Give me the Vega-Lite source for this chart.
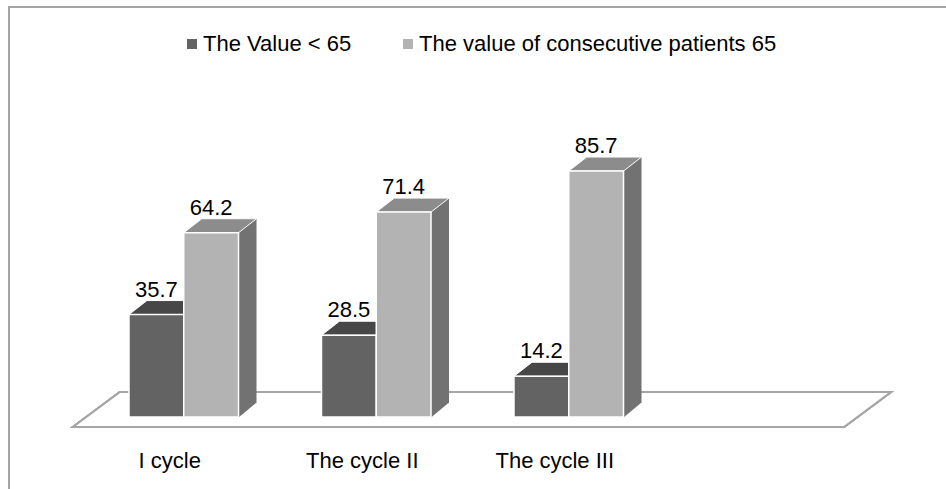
{
  "$schema": "https://vega.github.io/schema/vega-lite/v6.json",
  "width": 946,
  "height": 500,
  "autosize": {"type": "none"},
  "padding": {"left": 9, "top": 7, "right": 0, "bottom": 0},
  "background": "white",
  "config": {
    "view": {"stroke": "#a3a3a3", "strokeWidth": 2},
    "font": "Liberation Sans"
  },
  "data": {
    "values": [
      {"cycle": "I cycle", "series": "The Value < 65", "value": 35.7},
      {"cycle": "I cycle", "series": "The value of consecutive patients 65", "value": 64.2},
      {"cycle": "The cycle II", "series": "The Value < 65", "value": 28.5},
      {"cycle": "The cycle II", "series": "The value of consecutive patients 65", "value": 71.4},
      {"cycle": "The cycle III", "series": "The Value < 65", "value": 14.2},
      {"cycle": "The cycle III", "series": "The value of consecutive patients 65", "value": 85.7}
    ]
  },
  "encoding": {
    "x": {
      "field": "cycle",
      "type": "nominal",
      "title": null,
      "scale": {"range": [78.5, 656], "paddingInner": 0.431, "paddingOuter": 0.2155},
      "axis": {
        "orient": "bottom",
        "offset": -40,
        "domain": false,
        "ticks": false,
        "tickSize": 0,
        "labelPadding": 0,
        "labelBaseline": "alphabetic",
        "labelOffset": -14,
        "labelFontSize": 22,
        "labelColor": "#000000",
        "labelFont": "Liberation Sans",
        "labelAngle": 0,
        "grid": false
      }
    },
    "y": {
      "field": "value",
      "type": "quantitative",
      "title": null,
      "scale": {"domain": [0, 100], "range": [410, 123], "nice": false, "zero": true},
      "axis": null
    }
  },
  "layer": [
    {
      "mark": {
        "type": "point",
        "shape": "M-1,0.0428L0.8851,0.0428L1,-0.0428L-0.8851,-0.0428Z",
        "size": 669124,
        "filled": true,
        "fill": "#ffffff",
        "stroke": "#a6a6a6",
        "strokeWidth": 2,
        "opacity": 1,
        "xOffset": 105.7,
        "yOffset": -7.5
      },
      "encoding": {
        "x": {"datum": "The cycle II", "type": "nominal"},
        "y": {"datum": 0, "type": "quantitative"}
      }
    },
    {
      "transform": [{"filter": "datum.series == 'The Value < 65'"}],
      "mark": {"type": "bar", "width": 18, "xOffset": 9, "yOffset": -14, "y2Offset": -14, "fill": "#505050"},
      "encoding": {"y2": {"datum": 0}}
    },
    {
      "transform": [{"filter": "datum.series == 'The Value < 65'"}],
      "mark": {"type": "point", "shape": "M0,-0.8L1,-0.8L0,0.03Z", "size": 1296, "filled": true, "fill": "#505050", "strokeWidth": 0, "opacity": 1, "xOffset": 0},
      "encoding": {"y": {"datum": 0, "type": "quantitative"}}
    },
    {
      "transform": [{"filter": "datum.series == 'The Value < 65'"}],
      "mark": {"type": "point", "shape": "M-0.6033,0L0.6033,0L1,-0.3085L-0.2067,-0.3085Z", "size": 8237, "filled": true, "fill": "#474747", "stroke": "#ffffff", "strokeWidth": 1, "opacity": 1, "xOffset": -27.38}
    },
    {
      "transform": [{"filter": "datum.series != 'The Value < 65'"}],
      "mark": {"type": "bar", "width": 18, "xOffset": 63.76, "yOffset": -14, "y2Offset": -14, "fill": "#727272"},
      "encoding": {"y2": {"datum": 0}}
    },
    {
      "transform": [{"filter": "datum.series != 'The Value < 65'"}],
      "mark": {"type": "point", "shape": "M0,-0.8L1,-0.8L0,0.03Z", "size": 1296, "filled": true, "fill": "#727272", "strokeWidth": 0, "opacity": 1, "xOffset": 54.76},
      "encoding": {"y": {"datum": 0, "type": "quantitative"}}
    },
    {
      "transform": [{"filter": "datum.series != 'The Value < 65'"}],
      "mark": {"type": "point", "shape": "M-0.6033,0L0.6033,0L1,-0.3085L-0.2067,-0.3085Z", "size": 8237, "filled": true, "fill": "#8c8c8c", "stroke": "#ffffff", "strokeWidth": 1, "opacity": 1, "xOffset": 27.38}
    },
    {
      "transform": [{"filter": "datum.series == 'The Value < 65'"}],
      "mark": {"type": "bar", "width": 54.76, "xOffset": -27.38, "stroke": "#ffffff", "strokeWidth": 1.5},
      "encoding": {
        "color": {
          "field": "series",
          "type": "nominal",
          "scale": {"domain": ["The Value < 65", "The value of consecutive patients 65"], "range": ["#636363", "#b3b3b3"]},
          "legend": {
            "orient": "none",
            "legendX": 172,
            "legendY": 26,
            "direction": "horizontal",
            "title": null,
            "symbolType": "square",
            "symbolSize": 100,
            "symbolStrokeWidth": 0,
            "labelFontSize": 22,
            "labelFont": "Liberation Sans",
            "labelColor": "#000000",
            "labelLimit": 600,
            "labelOffset": 0,
            "columnPadding": 45,
            "padding": 0
          }
        }
      }
    },
    {
      "transform": [{"filter": "datum.series != 'The Value < 65'"}],
      "mark": {"type": "bar", "width": 54.76, "xOffset": 27.38, "stroke": "#ffffff", "strokeWidth": 1.5},
      "encoding": {
        "color": {"field": "series", "type": "nominal"}
      }
    },
    {
      "transform": [{"filter": "datum.series == 'The Value < 65'"}],
      "mark": {"type": "text", "baseline": "alphabetic", "dx": -27.38, "dy": -18, "fontSize": 22, "font": "Liberation Sans", "fill": "#000000"},
      "encoding": {
        "text": {"field": "value", "type": "quantitative", "format": ".1f"}
      }
    },
    {
      "transform": [{"filter": "datum.series != 'The Value < 65'"}],
      "mark": {"type": "text", "baseline": "alphabetic", "dx": 27.38, "dy": -18, "fontSize": 22, "font": "Liberation Sans", "fill": "#000000"},
      "encoding": {
        "text": {"field": "value", "type": "quantitative", "format": ".1f"}
      }
    }
  ]
}
